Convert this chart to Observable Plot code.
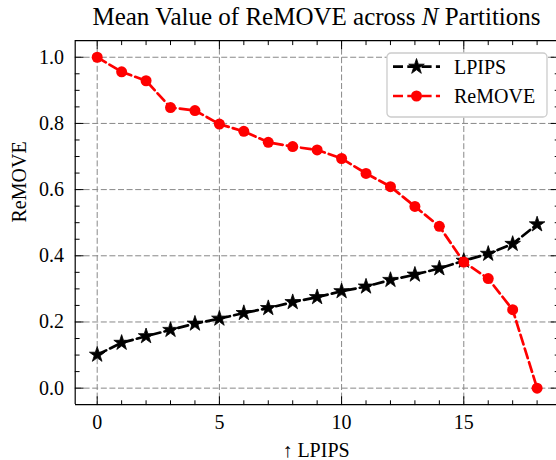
<!DOCTYPE html>
<html><head><meta charset="utf-8">
<script src="https://cdn.jsdelivr.net/npm/d3@7"></script>
<script src="https://cdn.jsdelivr.net/npm/@observablehq/plot@0.6"></script>
<style>
html,body{margin:0;padding:0;background:#fff;overflow:hidden;}
#wrap{position:relative;width:556px;height:460px;overflow:hidden;font-family:"Liberation Serif","Times New Roman",serif;color:#000;}
#title{box-sizing:border-box;height:32px;padding-top:2px;padding-left:77px;line-height:30px;font-size:25px;text-align:center;white-space:nowrap;}
#chart svg{overflow:hidden;}
#legend{position:absolute;left:386px;top:52px;}
</style></head><body>
<div id="wrap">
  <div id="title">Mean Value of ReMOVE across <i>N</i> Partitions</div>
  <div id="chart"></div>
  <svg id="legend" width="164" height="68"></svg>
</div>
<script>
// ---- data ----
const partitions = [0,1,2,3,4,5,6,7,8,9,10,11,12,13,14,15,16,17,18];
const lpipsValues = [0.101,0.137,0.157,0.176,0.195,0.210,0.227,0.242,0.260,0.275,0.293,0.307,0.327,0.343,0.362,0.385,0.406,0.436,0.495];
const removeValues = [1.000,0.956,0.929,0.848,0.839,0.798,0.776,0.743,0.730,0.720,0.694,0.649,0.609,0.549,0.489,0.381,0.331,0.237,0.000];
const seriesNames = ["LPIPS","ReMOVE"];
const seriesColors = ["#000000","#ff0000"];
const xTicks = [0,5,10,15];
const yTicks = [0.0,0.2,0.4,0.6,0.8,1.0];
const xMinor = [1,2,3,4,6,7,8,9,11,12,13,14,16,17,18];
const yMinor = [0.05,0.1,0.15,0.25,0.3,0.35,0.45,0.5,0.55,0.65,0.7,0.75,0.85,0.9,0.95];
const xLabel = "\u2191 LPIPS";
const yLabel = "ReMOVE";

const xDomain = [-0.9, 18.9];
const yDomain = [-0.05, 1.05];

const rows = partitions.map((p, i) => ({p, lpips: lpipsValues[i], remove: removeValues[i]}));

const tickShape = {draw(ctx, l) { ctx.moveTo(0, 0); ctx.lineTo(0, -l); }};
const MAJ = 8, MIN = 4;
function ticks(vals, side, len) {
  const o = {length: len, anchor: "start", shape: tickShape, stroke: "black", strokeWidth: 1};
  if (side === "left") return Plot.vector(vals, {...o, x: () => xDomain[0], y: d => d, rotate: 90});
  if (side === "right") return Plot.vector(vals, {...o, x: () => xDomain[1], y: d => d, rotate: -90});
  if (side === "bottom") return Plot.vector(vals, {...o, x: d => d, y: () => yDomain[0], rotate: 0});
  return Plot.vector(vals, {...o, x: d => d, y: () => yDomain[1], rotate: 180});
}

const gridStyle = {stroke: "#888", strokeOpacity: 1, strokeWidth: 1, strokeDasharray: "6,2.6"};
const lineStyle = {strokeWidth: 2.7, strokeDasharray: "10,4.3"};

const chart = Plot.plot({
  width: 556,
  height: 428,
  marginLeft: 75,
  marginRight: 0,
  marginTop: 8,
  marginBottom: 56,
  style: {fontFamily: "'Liberation Serif','Times New Roman',serif", fontSize: "20px", background: "white", overflow: "hidden"},
  x: {domain: xDomain, range: [74.7, 558.6], axis: null},
  y: {domain: yDomain, range: [372.2, 8.2], axis: null},
  marks: [
    Plot.gridX(xTicks, gridStyle),
    Plot.gridY(yTicks, gridStyle),
    Plot.line(rows, {x: "p", y: "lpips", stroke: seriesColors[0], ...lineStyle}),
    Plot.dot(rows, {x: "p", y: "lpips", symbol: "star", r: 4.9, fill: seriesColors[0], stroke: seriesColors[0], strokeWidth: 0.8}),
    Plot.line(rows, {x: "p", y: "remove", stroke: seriesColors[1], ...lineStyle}),
    Plot.dot(rows, {x: "p", y: "remove", r: 5.5, fill: seriesColors[1]}),
    Plot.ruleX([xDomain[0]], {stroke: "black", strokeWidth: 1.2}),
    Plot.ruleY([yDomain[0], yDomain[1]], {stroke: "black", strokeWidth: 1.2}),
    ticks(xTicks, "bottom", MAJ), ticks(xMinor, "bottom", MIN),
    ticks(xTicks, "top", MAJ), ticks(xMinor, "top", MIN),
    ticks(yTicks, "left", MAJ), ticks(yMinor, "left", MIN),
    ticks(yTicks, "right", MAJ), ticks(yMinor, "right", MIN),
    Plot.axisX(xTicks, {tickSize: 0, tickPadding: 10, fontSize: 20, label: null, tickFormat: d3.format("d")}),
    Plot.axisY(yTicks, {tickSize: 0, tickPadding: 11.5, fontSize: 20, label: null, tickFormat: d3.format(".1f")}),
    Plot.text([xLabel], {text: d => d, frameAnchor: "bottom", lineAnchor: "bottom", dy: 52.5, fontSize: 20}),
    Plot.text([yLabel], {text: d => d, frameAnchor: "left", lineAnchor: "bottom", rotate: -90, dx: -50, fontSize: 20})
  ]
});
document.getElementById("chart").appendChild(chart);

// ---- legend ----
const lg = d3.select("#legend");
lg.append("rect").attr("x", 1).attr("y", 1).attr("width", 160).attr("height", 64)
  .attr("rx", 4).attr("fill", "white").attr("stroke", "#cccccc").attr("stroke-width", 1.3);
const rowsY = [14.7, 44];
seriesNames.forEach((name, i) => {
  const y = rowsY[i];
  lg.append("line").attr("x1", 7).attr("x2", 54).attr("y1", y).attr("y2", y)
    .attr("stroke", seriesColors[i]).attr("stroke-width", 2.7).attr("stroke-dasharray", "10,4.3");
  if (i === 0) {
    lg.append("path").attr("d", d3.symbol(d3.symbolStar, Math.PI * 4.9 * 4.9)())
      .attr("transform", `translate(30.5,${y})`).attr("fill", seriesColors[i])
      .attr("stroke", seriesColors[i]).attr("stroke-width", 0.8);
  } else {
    lg.append("circle").attr("cx", 30.5).attr("cy", y).attr("r", 5.5).attr("fill", seriesColors[i]);
  }
  lg.append("text").attr("x", 68).attr("y", y + 6.8).attr("font-size", 20)
    .attr("font-family", "'Liberation Serif','Times New Roman',serif").text(name);
});
</script>
</body></html>
